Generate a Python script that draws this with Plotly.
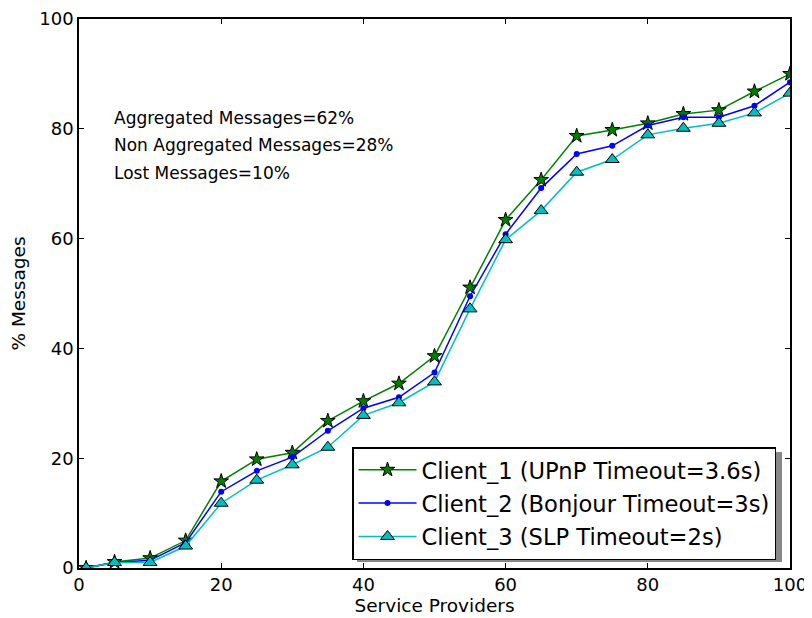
import plotly.graph_objects as go

x_vals = [1, 5, 10, 15, 20, 25, 30, 35, 40, 45, 50, 55, 60, 65, 70, 75, 80, 85, 90, 95, 100]
client1 = [0, 1.1, 1.8, 5.0, 15.8, 19.8, 21.0, 26.8, 30.4, 33.6, 38.6, 51.1, 63.4, 70.7, 78.7, 79.8, 81.0, 82.7, 83.4, 86.8, 90.0]
client2 = [0, 1.0, 1.4, 4.6, 13.9, 17.7, 20.2, 25.0, 29.1, 31.1, 35.6, 49.5, 60.8, 69.2, 75.4, 76.9, 80.6, 82.1, 82.1, 84.2, 88.5]
client3 = [0, 1.0, 1.0, 4.0, 11.8, 16.0, 18.8, 22.0, 27.8, 30.1, 33.9, 47.2, 59.8, 65.1, 72.1, 74.4, 78.9, 80.1, 81.0, 82.9, 86.5]
names = ["Client_1 (UPnP Timeout=3.6s)", "Client_2 (Bonjour Timeout=3s)", "Client_3 (SLP Timeout=2s)"]
notes = ["Aggregated Messages=62%", "Non Aggregated Messages=28%", "Lost Messages=10%"]
note_y = [82, 77, 72]

FONT = "DejaVu Sans"
fig = go.Figure()
fig.add_trace(go.Scatter(x=x_vals, y=client1, name=names[0], mode="lines+markers", legendgroup="a",
                         line=dict(color="#008000", width=1.5),
                         marker=dict(symbol="star", size=11, color="#008000", line=dict(color="black", width=1))))
fig.add_trace(go.Scatter(x=x_vals, y=client2, name=names[1], mode="lines+markers", legendgroup="b",
                         line=dict(color="#0000ff", width=1.5),
                         marker=dict(symbol="circle", size=6, color="#0000ff", line=dict(color="#0000ff", width=0))))
fig.add_trace(go.Scatter(x=x_vals, y=client3, name=names[2], mode="lines+markers", legendgroup="c",
                         line=dict(color="#00bfbf", width=1.5),
                         marker=dict(symbol="triangle-up", size=12, color="#00bfbf", line=dict(color="black", width=1))))

for t, yy in zip(notes, note_y):
    fig.add_annotation(x=4.6, y=yy, text=t, showarrow=False, xanchor="left", yanchor="middle",
                       font=dict(family=FONT, size=17, color="black"))

axis_common = dict(range=[0, 100], dtick=20, ticks="inside", ticklen=5, tickwidth=1, tickcolor="black",
                   showline=True, linecolor="black", linewidth=1.5, mirror="ticks", showgrid=False,
                   zeroline=False, automargin=False, ticklabeloverflow="allow",
                   tickfont=dict(family=FONT, size=18, color="black"))
fig.update_xaxes(**axis_common, title=dict(text="Service Providers", font=dict(family=FONT, size=18.5, color="black"), standoff=2))
fig.update_yaxes(**axis_common, title=dict(text="% Messages", font=dict(family=FONT, size=18.5, color="black"), standoff=12))

# plot area in screen pixels: x 79..790, y 19..568
PX0, PX1, PY0, PY1 = 79, 790, 19, 568
def px(v):
    return (v - PX0) / (PX1 - PX0)
def py(v):
    return (PY1 - v) / (PY1 - PY0)

# legend shadow
fig.add_shape(type="rect", xref="paper", yref="paper", layer="above",
              x0=px(357), x1=px(782), y0=py(562), y1=py(452),
              fillcolor="#888888", line=dict(width=0))

fig.update_layout(
    width=804, height=610,
    margin=dict(l=71, r=22, t=11, b=50),
    paper_bgcolor="white", plot_bgcolor="white",
    font=dict(family=FONT, color="black"),
    legend=dict(x=px(352), y=py(447), xanchor="left", yanchor="top",
                bgcolor="white", bordercolor="black", borderwidth=1.5,
                font=dict(family=FONT, size=22.6, color="black"), tracegroupgap=1, itemwidth=58),
)
fig.write_html("out.html")
